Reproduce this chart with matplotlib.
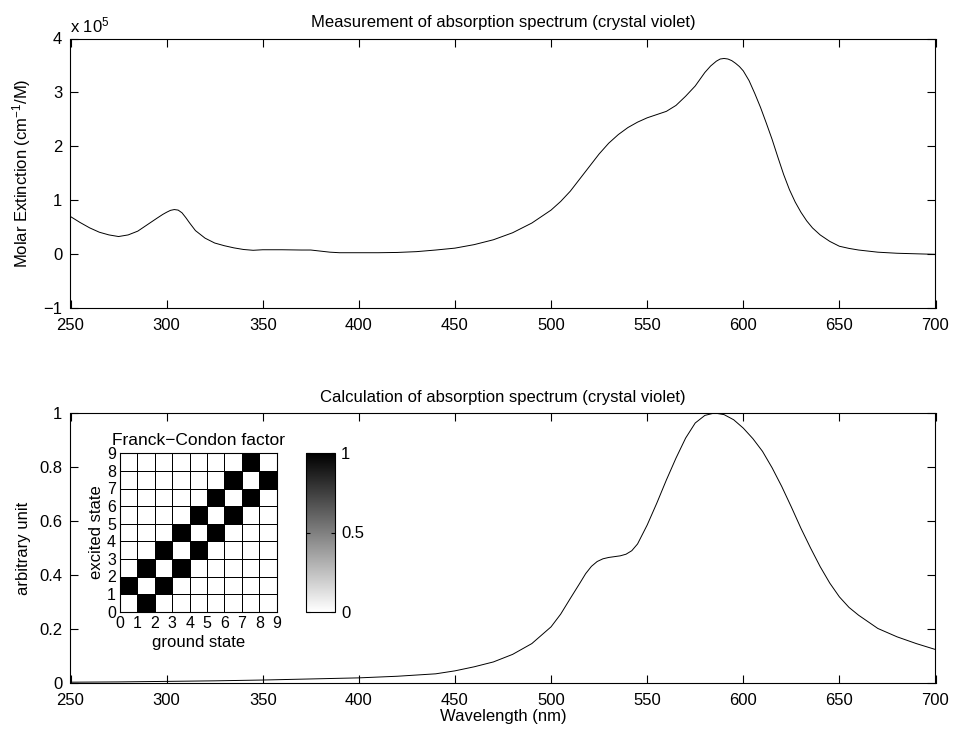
import numpy as np
import matplotlib.pyplot as plt

plt.rcParams['font.family'] = ['Liberation Sans', 'DejaVu Sans']
plt.rcParams['font.size'] = 12
plt.rcParams['mathtext.fontset'] = 'custom'
plt.rcParams['mathtext.rm'] = 'Liberation Sans'
plt.rcParams['mathtext.it'] = 'Liberation Sans:italic'
plt.rcParams['axes.linewidth'] = 0.8

# measured spectrum (molar extinction in units of 1e5 cm^-1/M)
meas_nm = [250, 255, 260, 265, 270, 275, 280, 285, 290, 295, 298, 300, 302, 304,
           306, 308, 310, 312, 315, 320, 325, 330, 335, 340, 345, 350, 360, 370,
           375, 380, 385, 390, 400, 410, 420, 430, 440, 450, 460, 470, 480, 490,
           500, 505, 510, 515, 520, 525, 530, 535, 540, 545, 550, 555, 560, 565,
           570, 575, 580, 583, 586, 588, 590, 592, 594, 596, 598, 600, 603, 606,
           609, 612, 615, 618, 621, 624, 627, 630, 633, 636, 640, 645, 650, 655,
           660, 670, 680, 690, 700]
meas_ext = [0.70, 0.59, 0.49, 0.41, 0.36, 0.33, 0.36, 0.43, 0.55, 0.67, 0.74, 0.78,
            0.815, 0.83, 0.82, 0.77, 0.68, 0.58, 0.44, 0.30, 0.21, 0.16, 0.12,
            0.09, 0.075, 0.085, 0.085, 0.08, 0.08, 0.06, 0.04, 0.03, 0.03, 0.03,
            0.035, 0.05, 0.08, 0.115, 0.18, 0.27, 0.40, 0.58, 0.82, 0.98, 1.17,
            1.40, 1.63, 1.86, 2.06, 2.22, 2.35, 2.45, 2.53, 2.59, 2.65, 2.76, 2.93,
            3.12, 3.37, 3.49, 3.58, 3.62, 3.63, 3.62, 3.59, 3.54, 3.48, 3.40, 3.22,
            2.98, 2.72, 2.43, 2.13, 1.80, 1.48, 1.20, 0.97, 0.78, 0.62, 0.49, 0.36,
            0.24, 0.15, 0.11, 0.08, 0.04, 0.02, 0.01, 0.0]

# calculated spectrum (normalised)
calc_nm = [250, 275, 300, 325, 350, 375, 400, 420, 440, 450, 460, 470, 480, 490,
           500, 505, 510, 515, 518, 521, 524, 527, 530, 533, 536, 539, 542, 545,
           550, 555, 560, 565, 570, 575, 580, 585, 590, 595, 600, 605, 610, 615,
           620, 625, 630, 635, 640, 645, 650, 655, 660, 670, 680, 690, 700]
calc_abs = [0.003, 0.004, 0.006, 0.008, 0.011, 0.015, 0.019, 0.025, 0.034, 0.045,
            0.06, 0.078, 0.106, 0.146, 0.208, 0.255, 0.313, 0.37, 0.405, 0.432,
            0.450, 0.460, 0.465, 0.468, 0.471, 0.477, 0.49, 0.515, 0.585, 0.666,
            0.752, 0.833, 0.907, 0.963, 0.991, 1.0, 0.994, 0.975, 0.944, 0.905,
            0.858, 0.797, 0.728, 0.652, 0.573, 0.50, 0.431, 0.37, 0.319, 0.28,
            0.251, 0.202, 0.171, 0.146, 0.124]

# Franck-Condon factor matrix (rows: excited state, cols: ground state)
fc_ground = list(range(10))
fc_excited = list(range(10))
fc_factor = [[0, 1, 0, 0, 0, 0, 0, 0, 0],
             [1, 0, 1, 0, 0, 0, 0, 0, 0],
             [0, 1, 0, 1, 0, 0, 0, 0, 0],
             [0, 0, 1, 0, 1, 0, 0, 0, 0],
             [0, 0, 0, 1, 0, 1, 0, 0, 0],
             [0, 0, 0, 0, 1, 0, 1, 0, 0],
             [0, 0, 0, 0, 0, 1, 0, 1, 0],
             [0, 0, 0, 0, 0, 0, 1, 0, 1],
             [0, 0, 0, 0, 0, 0, 0, 1, 0]]

W, H = 954, 733
fig = plt.figure(figsize=(W / 100, H / 100), dpi=100)

def px_axes(x0, y0, x1, y1):
    # pixel box (left, top, right, bottom) -> figure axes
    return fig.add_axes([x0 / W, 1 - y1 / H, (x1 - x0) / W, (y1 - y0) / H])

# top: measurement
ax1 = px_axes(70.5, 38.5, 935.5, 308.3)
ax1.plot(meas_nm, meas_ext, color='k', lw=0.7)
ax1.set_xlim(250, 700)
ax1.set_ylim(-1, 4)
ax1.set_xticks(range(250, 701, 50))
ax1.set_yticks(range(-1, 5))
ax1.tick_params(top=True, right=True, direction='in', length=6, width=0.8)
ax1.tick_params(axis='x', pad=7)
ax1.tick_params(axis='y', pad=6)
ax1.set_ylabel('Molar Extinction (cm$^{-1}$/M)', labelpad=7)
ax1.set_title('Measurement of absorption spectrum (crystal violet)', pad=8, fontsize=12)
ax1.text(0, 1.01, 'x 10$^5$', transform=ax1.transAxes, ha='left', va='bottom')

# bottom: calculation
ax2 = px_axes(70.5, 413, 935.5, 683)
ax2.plot(calc_nm, calc_abs, color='k', lw=0.7)
ax2.set_xlim(250, 700)
ax2.set_ylim(0, 1)
ax2.set_xticks(range(250, 701, 50))
ax2.set_yticks([0, 0.2, 0.4, 0.6, 0.8, 1])
ax2.set_yticklabels(['0', '0.2', '0.4', '0.6', '0.8', '1'])
ax2.tick_params(top=True, right=True, direction='in', length=6, width=0.8)
ax2.tick_params(axis='x', pad=7)
ax2.tick_params(axis='y', pad=6)
ax2.set_ylabel('arbitrary unit', labelpad=6)
ax2.set_xlabel('Wavelength (nm)', labelpad=1)
ax2.set_title('Calculation of absorption spectrum (crystal violet)', pad=8, fontsize=12)

# inset: Franck-Condon factor
axi = px_axes(120, 453.3, 276.7, 611.7)
mesh = axi.pcolormesh(fc_ground, fc_excited, fc_factor, cmap='gray_r',
                      vmin=0, vmax=1, edgecolors='k', linewidth=0.6)
axi.set_xlim(0, 9)
axi.set_ylim(0, 9)
axi.set_xticks(fc_ground)
axi.set_yticks(fc_excited)
axi.tick_params(length=0, pad=3, labelsize=11.5)
axi.set_xlabel('ground state', labelpad=3)
axi.set_ylabel('excited state', labelpad=2)
axi.set_title('Franck\u2212Condon factor', pad=6, fontsize=12.5)

cax = px_axes(305.7, 453.3, 335.5, 611.7)
cb = fig.colorbar(mesh, cax=cax, ticks=[0, 0.5, 1])
cb.ax.set_yticklabels(['0', '0.5', '1'])
cb.outline.set_linewidth(0.8)
cax.tick_params(direction='in', length=3, left=True, right=True, labelsize=12, pad=4)

fig.savefig('out.png', dpi=100)
